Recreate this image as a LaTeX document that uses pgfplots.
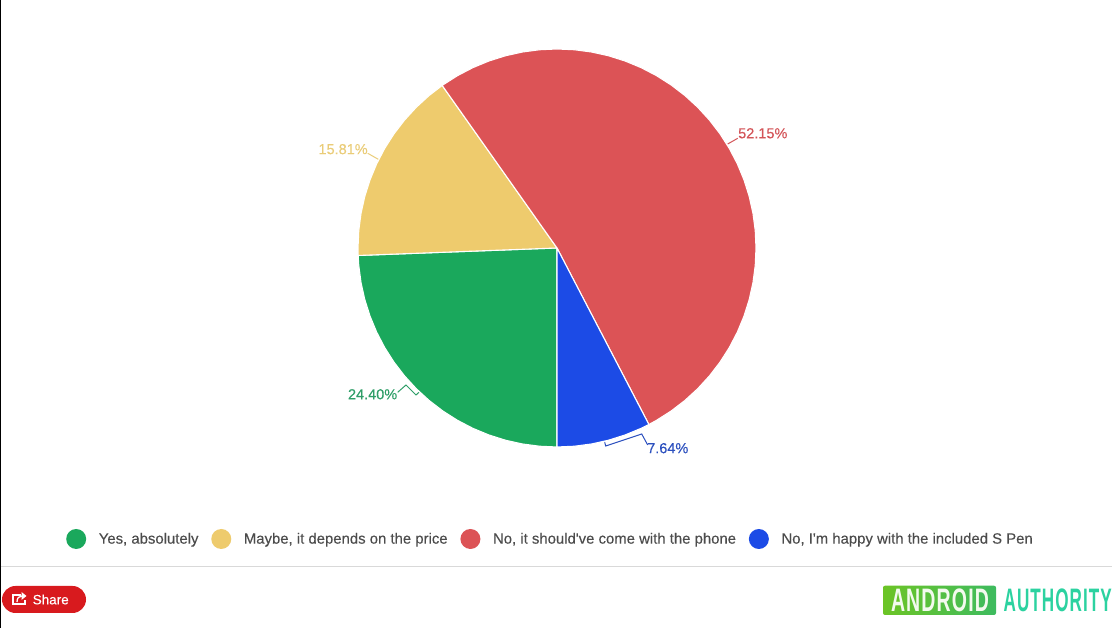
\documentclass[border=0pt]{standalone}
\usepackage{fontspec}
\setmainfont{Liberation Sans}
\newfontfamily\medfont[FakeBold=0.25]{Liberation Sans}
\newfontfamily\logofont[LetterSpace=6]{Liberation Sans}
\usepackage{graphicx}
\usepackage{pgfplots}
\pgfplotsset{compat=1.18}
\definecolor{cgreen}{HTML}{1AA85C}
\definecolor{cyellow}{HTML}{EECB6D}
\definecolor{cred}{HTML}{DC5356}
\definecolor{cblue}{HTML}{1C4BE6}
\definecolor{tgreen}{HTML}{2F9E68}
\definecolor{tyellow}{HTML}{EACC78}
\definecolor{tred}{HTML}{D35458}
\definecolor{tblue}{HTML}{2C50BE}
\definecolor{lgray}{HTML}{4C4C4C}
\definecolor{sharered}{HTML}{D81A1E}
\definecolor{logoa}{HTML}{6CC425}
\definecolor{logob}{HTML}{3DBB5F}
\definecolor{logoc}{HTML}{2CD2A0}
\tikzset{pct/.style={font=\medfont\fontsize{14.5}{16}\selectfont, inner sep=1pt}}
\begin{document}
\begin{tikzpicture}
\path[use as bounding box] (0,0) rectangle (1112pt,628pt);
\begin{axis}[
  at={(0pt,0pt)}, anchor=south west,
  x=1pt, y=1pt,
  xmin=-557, xmax=555, ymin=-380, ymax=248,
  hide axis, clip=false,
  wedge/.style={data cs=polar, draw=white, line width=1.1pt, line join=round},
  leader/.style={line width=1pt, forget plot},
  legend image code/.code={\fill[draw=none] (10pt,0pt) circle (10pt);},
  legend cell align=left,
  legend columns=4,
  legend style={
    at={(axis cs:-491,-291)}, anchor=west, draw=none, fill=none, inner sep=0pt,
    nodes={inner sep=0pt, font=\medfont\fontsize{14.9}{16}\selectfont, text=lgray},
    /tikz/every even column/.append style={column sep=12.8pt},
    /tikz/every odd column/.append style={column sep=12.6pt},
  },
]
% wedges: angle (deg), radius (px); shares 24.40, 15.81, 52.15, 7.64 %, from 6 o'clock clockwise
\addplot[wedge, fill=cgreen] coordinates {
  (0,0)(182.16,199)(185,199)(190,199)(195,199)(200,199)(205,199)(210,199)(215,199)(220,199)
  (225,199)(230,199)(235,199)(240,199)(245,199)(250,199)(255,199)(260,199)(265,199)(270,199)(0,0)
};
\addlegendentry{Yes, absolutely}
\addplot[wedge, fill=cyellow] coordinates {
  (0,0)(125.24,199)(130,199)(135,199)(140,199)(145,199)(150,199)(155,199)(160,199)(165,199)
  (170,199)(175,199)(180,199)(182.16,199)(0,0)
};
\addlegendentry{Maybe, it depends on the price}
\addplot[wedge, fill=cred] coordinates {
  (0,0)(297.5,199)(300,199)(305,199)(310,199)(315,199)(320,199)(325,199)(330,199)(335,199)
  (340,199)(345,199)(350,199)(355,199)(360,199)(365,199)(370,199)(375,199)(380,199)(385,199)
  (390,199)(395,199)(400,199)(405,199)(410,199)(415,199)(420,199)(425,199)(430,199)(435,199)
  (440,199)(445,199)(450,199)(455,199)(460,199)(465,199)(470,199)(475,199)(480,199)(485,199)
  (485.24,199)(0,0)
};
\addlegendentry{No, it should\textquotesingle ve come with the phone}
\addplot[wedge, fill=cblue] coordinates {
  (0,0)(270,199)(275,199)(280,199)(285,199)(290,199)(295,199)(297.5,199)(0,0)
};
\addlegendentry{No, I\textquotesingle m happy with the included S Pen}
% leader lines with their labels
\addplot[leader, color=tgreen] coordinates {(-159.3,-144.3)(-151,-137)(-141,-147)(-138,-144.3)}
  node[pos=0, anchor=east, pct, text=tgreen, xshift=1pt, yshift=-2pt] {24.40\%};
\addplot[leader, color=tyellow] coordinates {(-189.3,94.7)(-178.7,88.7)}
  node[pos=0, anchor=south east, pct, text=tyellow, xshift=1.5pt, yshift=-2.5pt] {15.81\%};
\addplot[leader, color=tred] coordinates {(180.7,109.7)(170.7,104)}
  node[pos=0, anchor=west, pct, text=tred, xshift=-1pt, yshift=5pt] {52.15\%};
\addplot[leader, color=tblue] coordinates {(90.7,-197)(84.7,-186)(48.7,-198)(47.7,-194.3)}
  node[pos=0, anchor=west, pct, text=tblue, xshift=-2pt, yshift=-3.2pt] {7.64\%};
\end{axis}
% page furniture, coordinates are px from the bottom left
\draw[black, line width=1.2pt] (0.6pt,0pt) -- (0.6pt,628pt);
\draw[black!15, line width=1pt] (1pt,61.5pt) -- (1112pt,61.5pt);
\fill[sharered, rounded corners=13.5pt] (2pt,15pt) rectangle (86pt,42pt);
\draw[white, line width=1.1pt] (21pt,33pt) -- (13pt,33pt) -- (13pt,24pt) -- (25pt,24pt) -- (25pt,28pt);
\draw[white, line width=1.3pt] (17pt,26pt) .. controls (17pt,30pt) and (19pt,32pt) .. (22pt,32pt);
\fill[white] (21.5pt,36pt) -- (26.5pt,32pt) -- (21.5pt,28pt) -- cycle;
\node[anchor=west, text=white, inner sep=0pt, font=\medfont\fontsize{13.5}{16}\selectfont] at (32.5pt,28.5pt) {Share};
\shade[left color=logoa, right color=logob, rounded corners=2pt] (883pt,13pt) rectangle (996pt,42.3pt);
\node[anchor=center, text=white!92!logoa, inner sep=0pt, font=\logofont\bfseries\fontsize{28}{30}\selectfont] at (940pt,27.7pt) {\resizebox{98pt}{22.7pt}{ANDROID}};
\node[anchor=west, text=logoc, inner sep=0pt, font=\logofont\bfseries\fontsize{28}{30}\selectfont] at (1003.5pt,27.7pt) {\resizebox{108pt}{22.7pt}{AUTHORITY}};
\end{tikzpicture}
\end{document}
